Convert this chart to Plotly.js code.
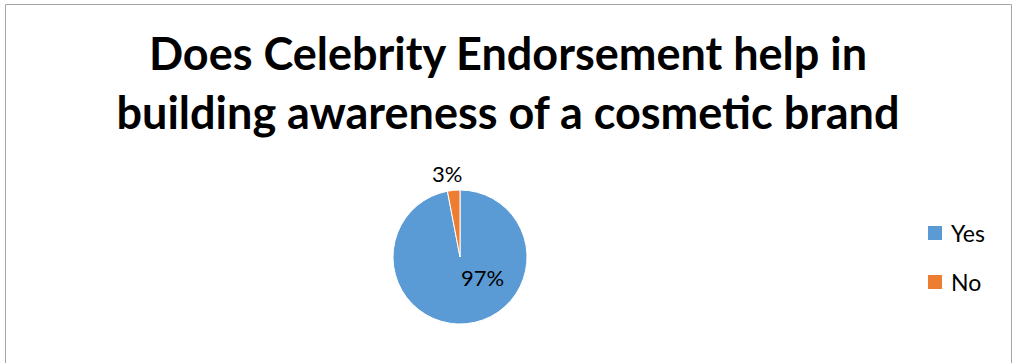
<!DOCTYPE html>
<html>
<head>
<meta charset="utf-8">
<script src="https://cdn.plot.ly/plotly-3.0.1.min.js"></script>
<style>
  html, body { margin: 0; padding: 0; background: #fff; }
  #chart { width: 1012px; height: 363px; }
</style>
</head>
<body>
<div id="chart"></div>
<script>
// ---- data ----
var labels = ["Yes", "No"];
var values = [97, 3];
var colors = ["#5B9BD5", "#ED7D31"];
var titleLines = ["Does Celebrity Endorsement help in", "building awareness of a cosmetic brand"];

var FONT = "Lato, 'Open Sans', sans-serif";
var W = 1012, H = 363;
var cx = 460, cy = 257, r = 67;
function px(x) { return x / W; }
function py(y) { return 1 - y / H; }

var total = values.reduce(function (a, b) { return a + b; }, 0);

var trace = {
  type: "pie",
  labels: labels,
  values: values,
  sort: false,
  direction: "clockwise",
  rotation: 0,
  marker: { colors: colors, line: { color: "#ffffff", width: 1 } },
  textinfo: "none",
  hoverinfo: "label+percent",
  domain: { x: [px(cx - r), px(cx + r)], y: [py(cy + r), py(cy - r)] },
  showlegend: false,
  automargin: false
};

var shapes = [{
  type: "rect", xref: "paper", yref: "paper",
  x0: px(5.5), x1: px(1011.5), y0: py(370), y1: py(4.5),
  line: { color: "#a6a6a6", width: 1 }, fillcolor: "rgba(0,0,0,0)"
}];
var annotations = [];

// data labels (offsets from pie centre, in px), text computed from values
var labelOffsets = [[22, 20], [-13, -84]];
labels.forEach(function (lab, i) {
  annotations.push({
    xref: "paper", yref: "paper",
    x: px(cx + labelOffsets[i][0]), y: py(cy + labelOffsets[i][1]),
    xanchor: "center", yanchor: "middle", showarrow: false,
    text: Math.round(values[i] / total * 100) + "%",
    font: { family: FONT, size: 22, color: "#000000" }
  });
});

// legend
var legTop = 233, legGap = 49, symX = 928, symS = 14, txtX = 949;
labels.forEach(function (lab, i) {
  var yc = legTop + i * legGap;
  shapes.push({
    type: "rect", xref: "paper", yref: "paper",
    x0: px(symX), x1: px(symX + symS), y0: py(yc + symS / 2), y1: py(yc - symS / 2),
    line: { width: 0 }, fillcolor: colors[i]
  });
  annotations.push({
    xref: "paper", yref: "paper", x: px(txtX), y: py(yc),
    xanchor: "left", yanchor: "middle", showarrow: false,
    text: lab, font: { family: FONT, size: 23, color: "#000000" }
  });
});

var layout = {
  width: W, height: H,
  margin: { l: 0, r: 0, t: 0, b: 0 },
  paper_bgcolor: "#ffffff",
  title: {
    text: "<b>" + titleLines.join("<br>") + "</b>",
    font: { family: FONT, size: 45, color: "#000000" },
    x: px(508), xanchor: "center", y: py(70), yanchor: "middle", yref: "container"
  },
  showlegend: false,
  shapes: shapes,
  annotations: annotations
};

Plotly.newPlot("chart", [trace], layout, { displayModeBar: false, staticPlot: true });
</script>
</body>
</html>
